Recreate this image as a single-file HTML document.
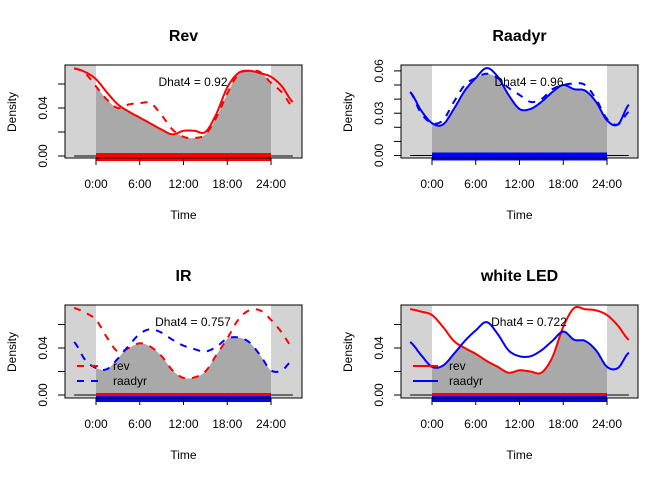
<!DOCTYPE html>
<html><head><meta charset="utf-8"><style>
body{margin:0;background:#fff}
svg{display:block;font-family:"Liberation Sans",Arial,sans-serif}
</style></head><body>
<svg id="c" width="672" height="480" viewBox="0 0 672 480" xmlns="http://www.w3.org/2000/svg"></svg>
<script>
const hours=[-3,-1.5,0,1.5,3,4.5,6,7.5,9,10.5,12,13.5,15,16.5,18,19.5,21,22.5,24,25.5,27];
const revA=[.073,.070,.064,.053,.043,.037,.032,.027,.022,.018,.021,.021,.020,.035,.057,.069,.071,.069,.066,.058,.045];
const revB=[.073,.069,.058,.047,.040,.043,.044,.044,.034,.022,.016,.015,.018,.032,.052,.068,.071,.070,.061,.053,.041];
const raaA=[.045,.032,.023,.022,.033,.046,.055,.062,.056,.043,.033,.033,.038,.045,.050,.047,.046,.038,.025,.022,.036];
const raaB=[.045,.030,.023,.025,.038,.050,.055,.058,.055,.048,.043,.038,.040,.047,.050,.051,.050,.040,.026,.022,.031];
const irRev=[.074,.070,.064,.049,.037,.040,.044,.041,.033,.021,.0145,.015,.020,.034,.048,.064,.072,.072,.064,.053,.040];
const irRaa=[.045,.030,.023,.022,.031,.042,.052,.056,.053,.047,.042,.039,.037,.041,.048,.049,.045,.034,.021,.021,.030];
const ledRev=[.073,.071,.068,.058,.046,.040,.035,.029,.024,.019,.021,.020,.019,.032,.058,.074,.073,.072,.068,.059,.047];
const ledRaa=[.045,.034,.024,.025,.035,.046,.055,.062,.052,.038,.033,.033,.038,.046,.054,.047,.046,.038,.024,.023,.036];
const xTicks=["0:00","6:00","12:00","18:00","24:00"];
const titles=["Rev","Raadyr","IR","white LED"];
const dhat=["Dhat4 = 0.92","Dhat4 = 0.96","Dhat4 = 0.757","Dhat4 = 0.722"];

const NS="http://www.w3.org/2000/svg";
const svg=document.getElementById('c');
function mk(tag,attrs,parent){const e=document.createElementNS(NS,tag);for(const k in attrs)e.setAttribute(k,attrs[k]);(parent||svg).appendChild(e);return e;}
function cr(vals,h){ // catmull-rom
  let i=Math.min(Math.floor((h-hours[0])/1.5),hours.length-2); if(i<0)i=0;
  const t=(h-hours[i])/1.5;
  const p0=vals[Math.max(i-1,0)],p1=vals[i],p2=vals[i+1],p3=vals[Math.min(i+2,vals.length-1)];
  return 0.5*((2*p1)+(-p0+p2)*t+(2*p0-5*p1+4*p2-p3)*t*t+(-p0+3*p1-3*p2+p3)*t*t*t);
}
const panels=[
 {ox:0,oy:0,a:revA,b:revB,ca:'red',cb:'red',da:false,db:true,ys:1200,y0:156,ticks:[0,.02,.04,.06],labs:[0,.04],rug:['red']},
 {ox:336,oy:0,a:raaA,b:raaB,ca:'blue',cb:'blue',da:false,db:true,ys:1410,y0:155.5,ticks:[0,.01,.02,.03,.04,.05,.06],labs:[0,.03,.06],rug:['blue']},
 {ox:0,oy:240,a:irRev,b:irRaa,ca:'red',cb:'blue',da:true,db:true,ys:1175,y0:395,ticks:[0,.02,.04,.06],labs:[0,.04],rug:['red','blue'],leg:true},
 {ox:336,oy:240,a:ledRev,b:ledRaa,ca:'red',cb:'blue',da:false,db:false,ys:1175,y0:395,ticks:[0,.02,.04,.06],labs:[0,.04],rug:['red','blue'],leg:true}
];
panels.forEach((p,pi)=>{
  const g=mk('g',{});
  
  
  const L=65+p.ox,R=302+p.ox,T=65+p.oy,B=158+p.oy;
  const X=h=>96+p.ox+h*175/24;
  const Y=v=>p.y0-v*p.ys;
  mk('rect',{x:L,y:T,width:R-L,height:B-T,fill:'#fff'},g);
  const s1=mk('rect',{x:L,y:T,width:X(0)-L,height:B-T,fill:'#d3d3d3'},g);
  
  const s2=mk('rect',{x:X(24),y:T,width:R-X(24),height:B-T,fill:'#d3d3d3'},g);
  
  // overlap fill
  let d='M'+X(0)+','+Y(0);
  for(let h=0;h<=24.001;h+=0.1){d+=' L'+X(h).toFixed(1)+','+Y(Math.min(cr(p.a,h),cr(p.b,h))).toFixed(1);}
  d+=' L'+X(24)+','+Y(0)+'Z';
  const f=mk('path',{d:d,fill:'#a9a9a9'},g);
  
  // baseline
  mk('line',{x1:X(-3),x2:X(27),y1:Y(0),y2:Y(0),stroke:'#000','stroke-width':1},g);
  // rugs
  p.rug.forEach((c,ri)=>{
    const y=p.rug.length==1?Y(0)-3:(ri==0?Y(0)-2:Y(0)+1);
    const r=mk('rect',{x:X(0),y:y,width:X(24)-X(0),height:p.rug.length==1?8:(ri==0?3:6),fill:c},g);
    
  });
  // curves
  [[p.a,p.ca,p.da,'series-a'],[p.b,p.cb,p.db,'series-b']].forEach(([vals,c,dash,nm])=>{
    let dd='';
    for(let h=-3;h<=27.001;h+=0.1){dd+=(dd?' L':'M')+X(h).toFixed(1)+','+Y(cr(vals,h)).toFixed(1);}
    const pth=mk('path',{d:dd,fill:'none',stroke:c,'stroke-width':2,'stroke-dasharray':dash?'7 7':'none'},g);
    
  });
  mk('rect',{x:L,y:T,width:R-L,height:B-T,fill:'none',stroke:'#000','stroke-width':1},g);
  // x axis
  xTicks.forEach((t,i)=>{
    const x=X(i*6);
    mk('line',{x1:x,x2:x,y1:B,y2:B+7,stroke:'#000'},g);
    const tx=mk('text',{x:x,y:B+30,'font-size':12,'text-anchor':'middle'},g);tx.textContent=t;
    
  });
  // y axis
  p.ticks.forEach(v=>{mk('line',{x1:L-7,x2:L,y1:Y(v),y2:Y(v),stroke:'#000'},g);});
  p.labs.forEach(v=>{
    const tx=mk('text',{x:0,y:0,'font-size':12,'text-anchor':'middle',transform:`translate(${L-18},${Y(v)}) rotate(-90)`},g);
    tx.textContent=v.toFixed(2);
    
  });
  const ttl=mk('text',{x:(L+R)/2,y:41+p.oy,'font-size':16,'font-weight':'bold','text-anchor':'middle'},g);ttl.textContent=titles[pi];
  
  const xl=mk('text',{x:(L+R)/2,y:219+p.oy,'font-size':12,'text-anchor':'middle'},g);xl.textContent='Time';
  
  const yl=mk('text',{x:0,y:0,'font-size':12,'text-anchor':'middle',transform:`translate(${16+p.ox},${112+p.oy}) rotate(-90)`},g);yl.textContent='Density';
  
  const dh=mk('text',{x:193+p.ox,y:86+p.oy,'font-size':12,'text-anchor':'middle'},g);dh.textContent=dhat[pi];
  
  if(p.leg){
    [['rev',p.ca,p.da,366],['raadyr',p.cb,p.db,381]].forEach(([t,c,dash,y])=>{
      const lg=mk('g',{},g);
      
      mk('line',{x1:77+p.ox,x2:102+p.ox,y1:y+p.oy-240,y2:y+p.oy-240,stroke:c,'stroke-width':2,'stroke-dasharray':dash?'7 7':'none'},lg);
      const tt=mk('text',{x:113+p.ox,y:y+4+p.oy-240,'font-size':12},lg);tt.textContent=t;
    });
  }
});
</script>
</body></html>
